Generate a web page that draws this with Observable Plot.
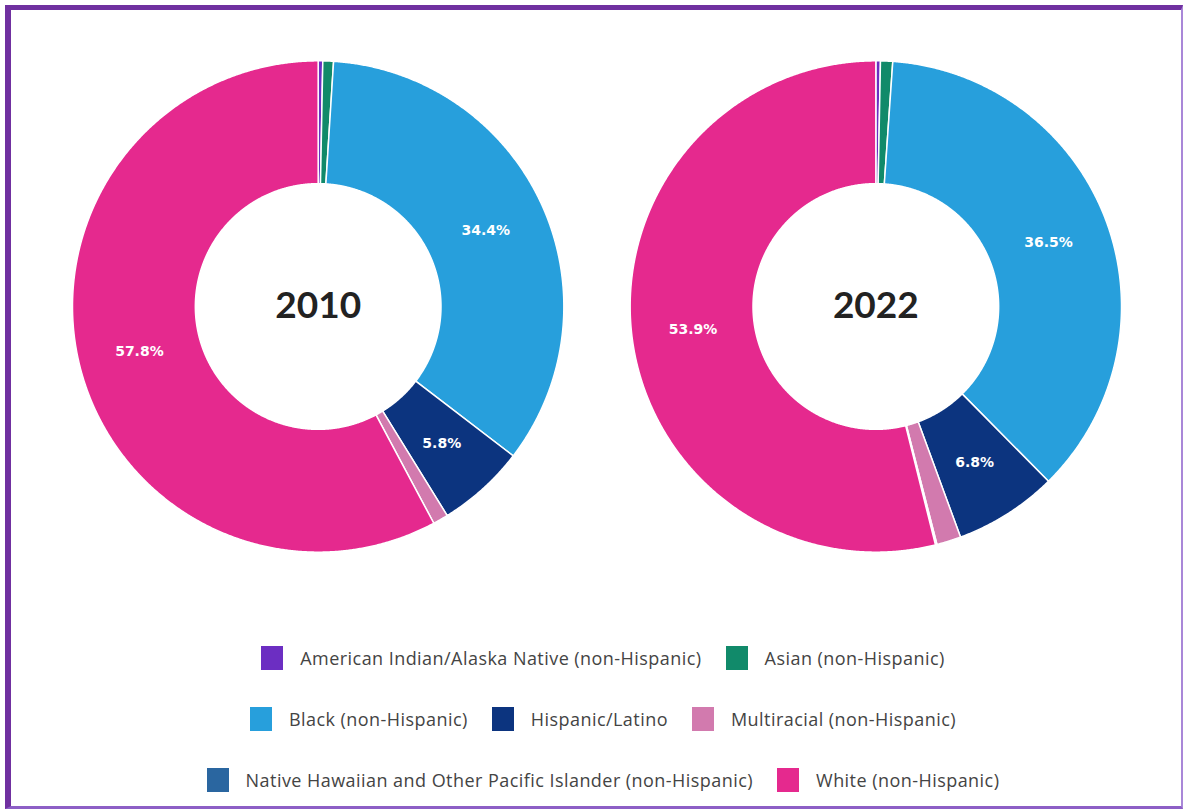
<!DOCTYPE html>
<html>
<head>
<meta charset="utf-8">
<script src="https://cdn.jsdelivr.net/npm/d3@7"></script>
<script src="https://cdn.jsdelivr.net/npm/@observablehq/plot@0.6"></script>
<style>
  html, body { margin: 0; padding: 0; background: #fff; }
  #frame {
    position: absolute; left: 5px; top: 5px;
    width: 1170px; height: 796px;
    border-style: solid;
    border-width: 5px 2px 3px 6px;
    border-color: #7030a0 #a987d8 #8d5fc6 #7030a0;
    overflow: hidden;
  }
  #chart svg { display: block; }
  #legend { padding-top: 57px; padding-left: 14px; font-family: "Open Sans", "Noto Sans", sans-serif; font-size: 18px; letter-spacing: 0.45px; color: #444; }
  .row { height: 61px; display: flex; align-items: center; justify-content: center; }
  .item { display: flex; align-items: center; margin: 0 12px; white-space: nowrap; }
  .sw { width: 22px; height: 24px; margin-right: 17px; }
</style>
</head>
<body>
<div id="frame">
  <div id="chart"></div>
  <div id="legend"></div>
</div>
<script>
// ---- data ----
const categories = [
  "American Indian/Alaska Native (non-Hispanic)",
  "Asian (non-Hispanic)",
  "Black (non-Hispanic)",
  "Hispanic/Latino",
  "Multiracial (non-Hispanic)",
  "Native Hawaiian and Other Pacific Islander (non-Hispanic)",
  "White (non-Hispanic)"
];
const colors = ["#6c2ec2", "#118a6a", "#279fdc", "#0c347f", "#d27aae", "#2a66a0", "#e5298e"];
const years = ["2010", "2022"];
const values2010 = [0.3, 0.7, 34.4, 5.8, 1.0, 0.0, 57.8];
const values2022 = [0.3, 0.8, 36.5, 6.8, 1.6, 0.1, 53.9];
const legendRows = [
  [0, 1],
  [2, 3, 4],
  [5, 6]
];

// ---- build geometry (unit radius donuts) ----
const seriesValues = [values2010, values2022];
const spacing = 2.27;      // distance between donut centers, in outer radii
const innerRatio = 0.5;
const pie = d3.pie().sort(null).value(d => d.value);

const slices = [];
const labels = [];
const centers = [];
years.forEach((year, i) => {
  const cx = i * spacing;
  centers.push({x: cx, y: 0, text: year});
  const arcs = pie(seriesValues[i].map((v, j) => ({category: categories[j], value: v})));
  arcs.forEach(a => {
    if (a.endAngle - a.startAngle <= 0) return;
    const pt = (ang, r) => [cx + r * Math.sin(ang), -r * Math.cos(ang)];
    const n = Math.max(2, Math.ceil((a.endAngle - a.startAngle) / 0.005));
    const ring = [];
    for (let k = 0; k <= n; k++) ring.push(pt(a.startAngle + (a.endAngle - a.startAngle) * k / n, 1));
    for (let k = n; k >= 0; k--) ring.push(pt(a.startAngle + (a.endAngle - a.startAngle) * k / n, innerRatio));
    ring.push(ring[0]);
    slices.push({type: "Feature", properties: {category: a.data.category}, geometry: {type: "Polygon", coordinates: [ring]}});
    if (a.data.value >= 5) {
      const mid = (a.startAngle + a.endAngle) / 2;
      const [x, y] = pt(mid, (1 + innerRatio) / 2);
      labels.push({x, y, text: a.data.value.toFixed(1) + "%"});
    }
  });
});

const chart = Plot.plot({
  width: 1170,
  height: 560,
  marginLeft: 61,
  marginRight: 60,
  marginTop: 50,
  marginBottom: 18,
  projection: {
    type: "identity",
    domain: {type: "MultiPoint", coordinates: [[-1, -1], [spacing + 1, 1]]}
  },
  color: {domain: categories, range: colors},
  marks: [
    Plot.geo(slices, {fill: d => d.properties.category, stroke: "white", strokeWidth: 1.5}),
    Plot.text(labels, {x: "x", y: "y", text: "text", fill: "white", fontWeight: "bold",
      fontSize: 14, fontFamily: "DejaVu Sans, sans-serif"}),
    Plot.text(centers, {x: "x", y: "y", text: "text", fill: "#222", fontWeight: "bold",
      fontSize: 37, fontFamily: "Lato, sans-serif"})
  ]
});
document.getElementById("chart").appendChild(chart);

// ---- legend ----
const legend = document.getElementById("legend");
legendRows.forEach(row => {
  const r = document.createElement("div");
  r.className = "row";
  row.forEach(j => {
    const it = document.createElement("div");
    it.className = "item";
    const sw = document.createElement("span");
    sw.className = "sw";
    sw.style.background = colors[j];
    const lab = document.createElement("span");
    lab.textContent = categories[j];
    it.appendChild(sw);
    it.appendChild(lab);
    r.appendChild(it);
  });
  legend.appendChild(r);
});
</script>
</body>
</html>
